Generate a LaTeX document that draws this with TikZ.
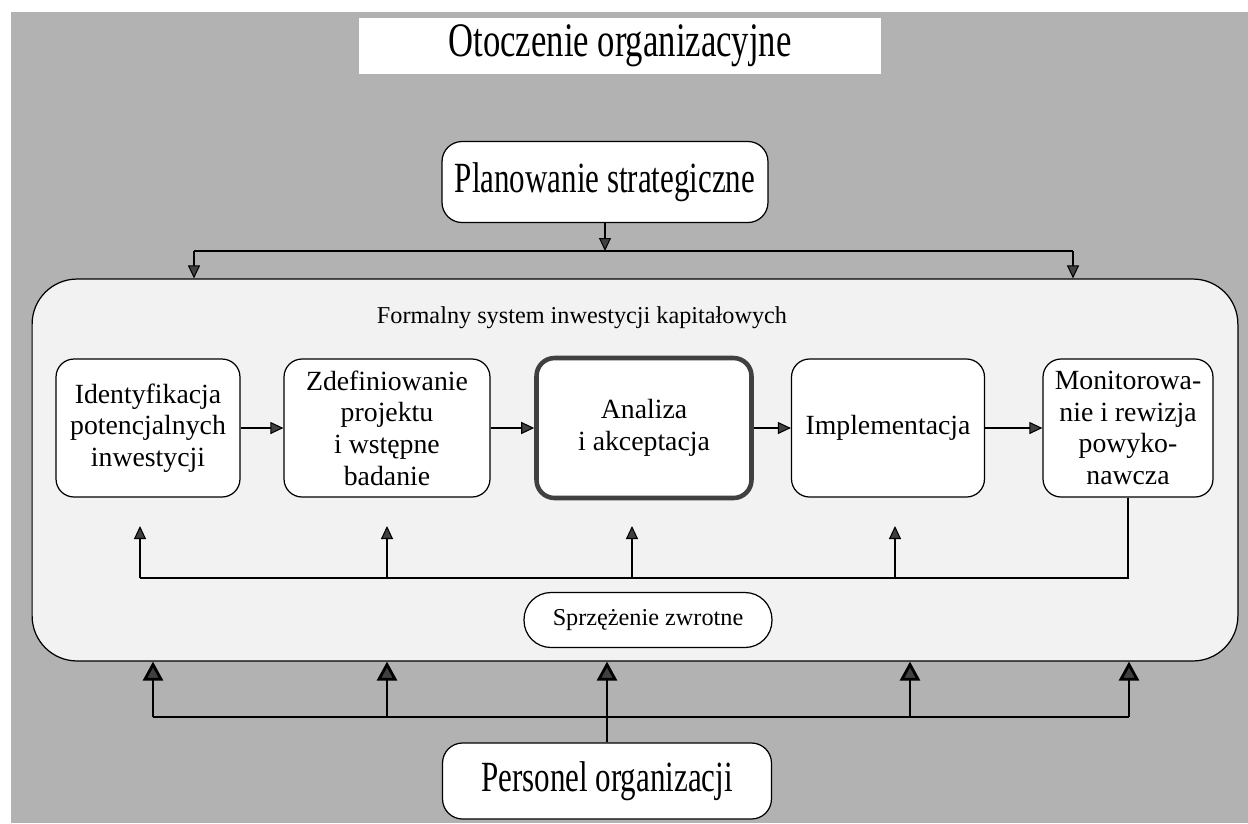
\documentclass[tikz,border=0pt]{standalone}
\usepackage{fontspec}
\setmainfont{Liberation Serif}
\newfontfamily\condfont{Liberation Serif}[FakeStretch=0.72]
\usetikzlibrary{arrows.meta}
\tikzset{
  box/.style={draw, fill=white, rounded corners=0.36cm, align=center,
    line width=0.7pt, inner sep=2pt, font=\fontsize{15.8}{18}\selectfont},
  bigtext/.style={font=\condfont\fontsize{24.5}{28}\selectfont},
  smalltext/.style={font=\fontsize{13.8}{16}\selectfont},
  linearr/.style={line width=0.6pt, -{Triangle[length=0.26cm,width=0.24cm,fill=black!75]}},
  heavyarr/.style={line width=1.6pt, -{Triangle[length=0.38cm,width=0.4cm,fill=black!75]}}
}
\begin{document}
\begin{tikzpicture}[x=0.02cm,y=-0.02cm]
    \useasboundingbox (0,0) rectangle (1248,823);
    \fill[black!30] (11,12) rectangle (1248,823);
    %
    \node[fill=white, minimum width=10.46cm, minimum height=1.12cm,
      font=\condfont\fontsize{27.4}{30}\selectfont] (env) at (620,46) {Otoczenie organizacyjne};
    \node[box, bigtext, rounded corners=0.4cm, minimum width=6.52cm,
      minimum height=1.62cm] (plan) at (605,182) {Planowanie strategiczne};
    %
    \node[draw, fill=black!5, line width=0.7pt, rounded corners=0.9cm,
      minimum width=24.12cm, minimum height=7.64cm] (sys) at (635,470) {};
    \node[smalltext] (syslabel) at (582,318) {Formalny system inwestycji kapitałowych};
    %
    \node[box, minimum width=3.68cm, minimum height=2.76cm] (ident) at (148,428)
      {Identyfikacja\\potencjalnych\\inwestycji};
    \node[box, minimum width=4.12cm, minimum height=2.76cm] (zdef) at (387,428)
      {Zdefiniowanie\\projektu\\i wstępne\\badanie};
    \node[box, draw=black!75, line width=2.6pt, minimum width=4.3cm,
      minimum height=2.8cm] (anal) at (644,428) {Analiza\\i akceptacja};
    \node[box, minimum width=3.86cm, minimum height=2.76cm] (impl) at (888,428)
      {Implementacja};
    \node[box, minimum width=3.4cm, minimum height=2.76cm] (monit) at (1128,428)
      {Monitorowa-\\nie i rewizja\\powyko-\\nawcza};
    %
    \draw[linearr] (ident.east) -- (zdef.west);
    \draw[linearr] (zdef.east) -- (anal.west);
    \draw[linearr] (anal.east) -- (impl.west);
    \draw[linearr] (impl.east) -- (monit.west);
    %
    \coordinate (fb1) at (140,578);
    \coordinate (fb2) at (387,578);
    \coordinate (fb3) at (632,578);
    \coordinate (fb4) at (895,578);
    \draw[line width=0.6pt] (monit.south) |- (fb1);
    \foreach \i in {1,...,4}
      \draw[linearr] (fb\i) -- ++(0,-52);
    \node[box, smalltext, rounded corners=0.54cm, minimum width=4.96cm,
      minimum height=1.1cm] (fbk) at (648,620) {Sprzężenie zwrotne};
    %
    \coordinate (pa) at (194,251);
    \coordinate (pb) at (1073,251);
    \draw[line width=0.6pt] (pa) -- (pb);
    \draw[linearr] (plan.south) -- (plan.south |- pa);
    \draw[linearr] (pa) -- (pa |- sys.north);
    \draw[linearr] (pb) -- (pb |- sys.north);
    %
    \node[box, bigtext, rounded corners=0.4cm, minimum width=6.58cm,
      minimum height=1.52cm] (pers) at (607,781) {Personel organizacji};
    \coordinate (pl1) at (153,717);
    \coordinate (pl2) at (387,717);
    \coordinate (pl4) at (910,717);
    \coordinate (pl5) at (1129,717);
    \draw[line width=1.6pt] (pl1) -- (pl5);
    \draw[heavyarr] (pers.north) -- (pers.north |- sys.south);
    \foreach \c in {pl1,pl2,pl4,pl5}
      \draw[heavyarr] (\c) -- (\c |- sys.south);
\end{tikzpicture}
\end{document}
